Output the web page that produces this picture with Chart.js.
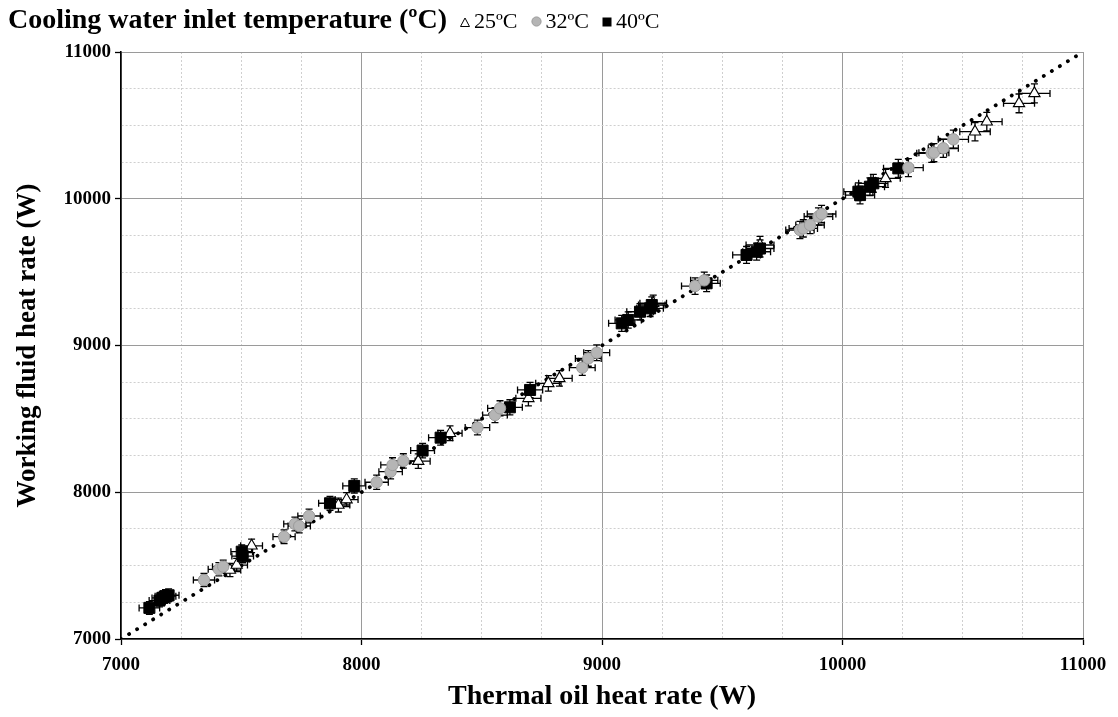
<!DOCTYPE html>
<html>
<head>
<meta charset="utf-8">
<script src="https://cdn.jsdelivr.net/npm/chart.js@4.4.1/dist/chart.umd.min.js"></script>
<style>
  body { margin: 0; background: #fff; }
  #wrap { position: relative; width: 1118px; height: 717px; }
  #head {
    position: absolute; left: 8px; top: 3px;
    font-family: "Liberation Serif", "Times New Roman", serif;
    white-space: nowrap; line-height: 32px; color: #000;
  }
  #head .ttl { font-weight: bold; font-size: 28px; }
  #head .item { font-size: 22px; margin-left: 9px; }
  #head svg { vertical-align: 1px; margin-right: 4px; }
  canvas { position: absolute; left: 0; top: 0; }
</style>
</head>
<body>
<div id="wrap">
  <canvas id="chart" width="1118" height="717"></canvas>
  <div id="head">
    <span class="ttl">Cooling water inlet temperature (ºC)</span>
    <span class="item"><svg width="10" height="10"><polygon points="5,1 9.5,9.5 0.5,9.5" fill="#fff" stroke="#000" stroke-width="1"/></svg>25ºC</span>
    <span class="item"><svg width="11" height="11"><circle cx="5.5" cy="5.5" r="4.6" fill="#b5b5b5" stroke="#9a9a9a" stroke-width="1"/></svg>32ºC</span>
    <span class="item"><svg width="10" height="10"><rect x="0.5" y="0.5" width="9" height="9" fill="#000"/></svg>40ºC</span>
  </div>
</div>
<script>
// 冷却水入口温度ごとの測定点 (熱媒油側 W, 作動流体側 W)
const oil25 = [7453, 7481, 7543, 7904, 7938, 8236, 8368, 8694, 8777, 8823, 9213, 9657, 10179, 10551, 10600, 10734, 10798];
const wf25  = [7470, 7504, 7635, 7913, 7950, 8212, 8402, 8640, 8742, 8776, 9288, 9685, 10139, 10457, 10525, 10650, 10718];

const oil32 = [7345, 7407, 7425, 7678, 7723, 7741, 7782, 8063, 8121, 8129, 8174, 8482, 8555, 8576, 8918, 8943, 8978,
               9387, 9425, 9823, 9837, 9865, 9900, 9913, 10274, 10371, 10380, 10419, 10461];
const wf32  = [7402, 7475, 7493, 7697, 7784, 7770, 7838, 8068, 8140, 8186, 8213, 8441, 8526, 8572, 8849, 8912, 8951,
               9405, 9444, 9787, 9798, 9821, 9879, 9896, 10212, 10310, 10314, 10344, 10405];

const oil40 = [7118, 7160, 7172, 7185, 7198, 7502, 7506, 7869, 7970, 8254, 8329, 8617, 8701, 9082, 9109, 9158, 9200, 9207,
               9435, 9601, 9643, 9657, 10066, 10073, 10114, 10128, 10232];
const wf40  = [7212, 7262, 7280, 7292, 7298, 7595, 7565, 7925, 8043, 8284, 8372, 8579, 8697, 9151, 9174, 9230, 9253, 9276,
               9424, 9617, 9639, 9661, 10048, 10025, 10082, 10105, 10207];

// 測定の不確かさ (%)
const errPct = 0.6;

// y = x の参照線
const parityLine = [7000, 11000];

const axisMin = 7000, axisMax = 11000, minorStep = 250, majorStep = 1000;

const toPoints = (xs, ys) => xs.map((v, i) => ({ x: v, y: ys[i] }));
const isMajor = c => c.tick && c.tick.value % majorStep === 0;
const serif = '"Liberation Serif", "Times New Roman", serif';

// エラーバー（マーカーの下に描く）
const errorBars = {
    id: 'errorBars',
    beforeDatasetsDraw(chart) {
        const { ctx, scales: { x, y } } = chart;
        const cap = 3.5;
        ctx.save();
        ctx.strokeStyle = '#000';
        ctx.lineWidth = 1.3;
        chart.data.datasets.forEach(ds => {
            if (!ds.errorBars) return;
            ds.data.forEach(p => {
                const dx = p.x * errPct / 100, dy = p.y * errPct / 100;
                const px = x.getPixelForValue(p.x), py = y.getPixelForValue(p.y);
                const x0 = x.getPixelForValue(p.x - dx), x1 = x.getPixelForValue(p.x + dx);
                const y0 = y.getPixelForValue(p.y - dy), y1 = y.getPixelForValue(p.y + dy);
                ctx.beginPath();
                ctx.moveTo(x0, py); ctx.lineTo(x1, py);
                ctx.moveTo(x0, py - cap); ctx.lineTo(x0, py + cap);
                ctx.moveTo(x1, py - cap); ctx.lineTo(x1, py + cap);
                ctx.moveTo(px, y0); ctx.lineTo(px, y1);
                ctx.moveTo(px - cap, y0); ctx.lineTo(px + cap, y0);
                ctx.moveTo(px - cap, y1); ctx.lineTo(px + cap, y1);
                ctx.stroke();
            });
        });
        ctx.restore();
    }
};

function axis(title, isX) {
    return {
        type: 'linear',
        min: axisMin, max: axisMax,
        ticks: {
            stepSize: minorStep,
            autoSkip: false,
            color: '#000',
            padding: isX ? 9 : 4,
            font: { family: serif, size: 19, weight: 'bold' },
            callback: v => v % majorStep === 0 ? v : ''
        },
        grid: {
            color: c => isMajor(c) ? '#9a9a9a' : '#cfcfcf',
            lineWidth: 1,
            tickLength: 6,
            tickColor: c => isMajor(c) ? '#000' : 'rgba(0,0,0,0)',
            tickWidth: 1.3
        },
        border: {
            color: '#000', width: 1.6,
            dash: c => (c.tick && !isMajor(c)) ? [2, 2] : []
        },
        title: {
            display: true, text: title, color: '#000',
            font: { family: serif, size: isX ? 28 : 27, weight: 'bold', lineHeight: 1.2 },
            padding: isX ? { top: 0, bottom: 3 } : { top: 12, bottom: 0 }
        },
        afterFit: s => { if (isX) s.height = 78; else s.width = 121; }
    };
}

new Chart(document.getElementById('chart'), {
    type: 'scatter',
    data: {
        datasets: [
            {
                label: '25ºC', data: toPoints(oil25, wf25), errorBars: true, order: 3,
                pointStyle: 'triangle', pointRadius: 6.5, pointBackgroundColor: '#fff',
                pointBorderColor: '#000', pointBorderWidth: 1.1
            },
            {
                label: '40ºC', data: toPoints(oil40, wf40), errorBars: true, order: 2,
                pointStyle: 'rect', pointRadius: 7.8, pointBackgroundColor: '#000',
                pointBorderColor: '#000', pointBorderWidth: 1
            },
            {
                label: '32ºC', data: toPoints(oil32, wf32), errorBars: true, order: 1,
                pointStyle: 'circle', pointRadius: 5.7, pointBackgroundColor: '#b5b5b5',
                pointBorderColor: '#9c9c9c', pointBorderWidth: 1
            },
            {
                label: 'y = x', type: 'line', order: 10,
                data: toPoints(parityLine, parityLine),
                borderColor: '#000', borderWidth: 3.8, borderDash: [0.1, 9.3],
                borderCapStyle: 'round', pointRadius: 0, fill: false
            }
        ]
    },
    options: {
        responsive: false,
        animation: false,
        layout: { padding: { top: 52, right: 35, left: 0, bottom: 0 } },
        plugins: { legend: { display: false }, tooltip: { enabled: false } },
        scales: {
            x: axis('Thermal oil heat rate (W)', true),
            y: axis('Working fluid heat rate (W)', false)
        }
    },
    plugins: [errorBars]
});
</script>
</body>
</html>
